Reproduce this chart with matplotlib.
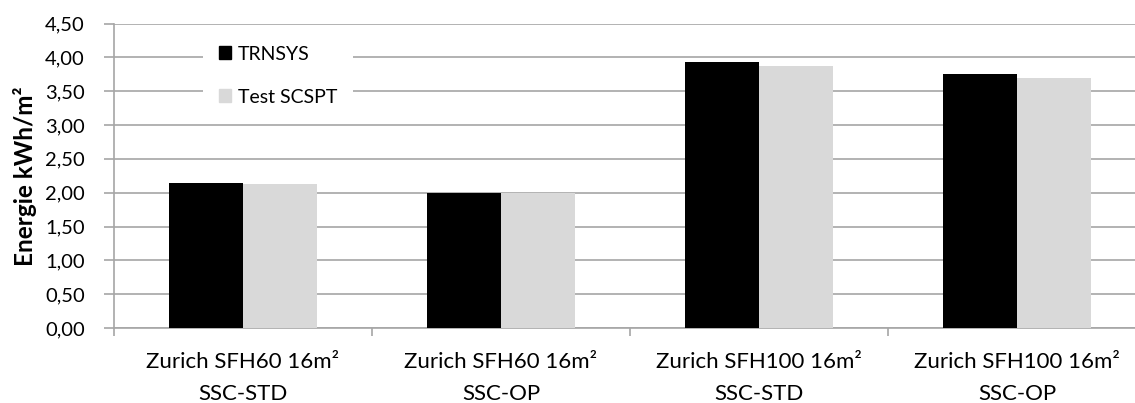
import numpy as np
import matplotlib.pyplot as plt
from matplotlib.patches import Patch

plt.rcParams['font.family'] = ['Lato', 'DejaVu Sans']

categories = ['Zurich SFH60 16m²\nSSC-STD', 'Zurich SFH60 16m²\nSSC-OP',
              'Zurich SFH100 16m²\nSSC-STD', 'Zurich SFH100 16m²\nSSC-OP']
trnsys = [2.14, 2.00, 3.93, 3.76]
scspt = [2.13, 1.99, 3.87, 3.69]
yticks = [0, 0.5, 1.0, 1.5, 2.0, 2.5, 3.0, 3.5, 4.0, 4.5]

W, H = 1135, 403
fig = plt.figure(figsize=(W / 100, H / 100), dpi=100)
# plot area runs a bit past the right edge, like the original crop
ax = fig.add_axes([114 / W, (H - 328) / H, (1146 - 114) / W, (328 - 23.5) / H])

x = np.arange(len(categories))
bw = 0.286
ax.bar(x - bw / 2, trnsys, bw, color='black', zorder=3)
ax.bar(x + bw / 2, scspt, bw, color='#d9d9d9', zorder=3)

ax.set_xlim(-0.5, len(categories) - 0.5)
ax.set_ylim(0, 4.5)
ax.set_yticks(yticks)
ax.set_yticklabels([('%.2f' % v).replace('.', ',') for v in yticks], fontsize=14.5)
ax.yaxis.grid(True, color='#a6a6a6', linewidth=1.2, zorder=0)

ax.set_xticks(x)
ax.set_xticklabels(categories, fontsize=16, linespacing=1.8)
ax.set_xticks(np.arange(len(categories) + 1) - 0.5, minor=True)
ax.tick_params(axis='x', which='major', length=0, pad=17)
ax.tick_params(axis='x', which='minor', length=6, color='#a6a6a6', width=1.2)
ax.tick_params(axis='y', length=7, color='#a6a6a6', width=1.2, pad=14)

for s in ['top', 'right']:
    ax.spines[s].set_visible(False)
for s in ['left', 'bottom']:
    ax.spines[s].set_color('#a6a6a6')
    ax.spines[s].set_linewidth(1.2)

ax.set_ylabel('Energie kWh/m²', fontsize=17.5, fontweight='bold', labelpad=6)

handles = [Patch(color='black'), Patch(color='#d9d9d9')]
leg = ax.legend(handles, ['TRNSYS', 'Test SCSPT'], loc='upper left',
                bbox_to_anchor=(203 / W, 1 - 30 / H), bbox_transform=fig.transFigure,
                fontsize=14, handlelength=0.65, handleheight=0.65, handletextpad=0.35,
                labelspacing=1.35, borderpad=0.8, borderaxespad=0,
                frameon=True, fancybox=False, framealpha=1,
                facecolor='white', edgecolor='none')
leg.set_zorder(5)

plt.savefig('out.png', dpi=100)
